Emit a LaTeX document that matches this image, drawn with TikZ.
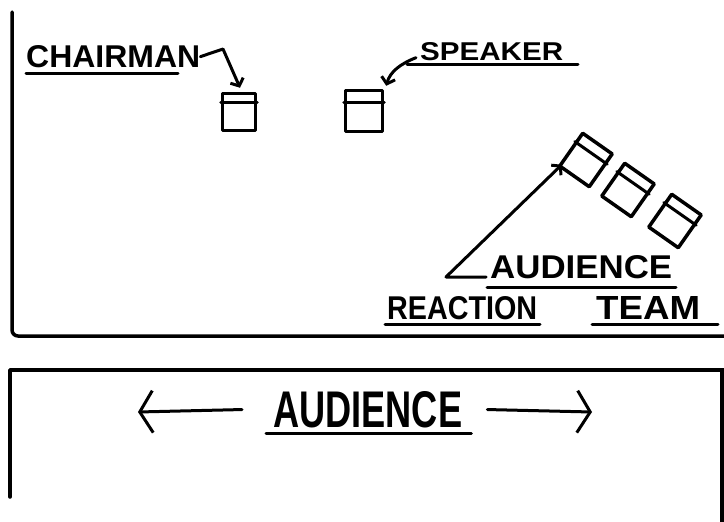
\documentclass[tikz,border=0pt]{standalone}
\usepackage{fontspec}
\setmainfont{Liberation Sans}
\usetikzlibrary{arrows.meta,calc}
\tikzset{
  ink/.style={line width=3pt,line cap=round,line join=round},
  wall/.style={line width=3.5pt,line cap=round,line join=round},
  lbl/.style={inner sep=0pt,font=\bfseries},
  seat/.style={draw,line width=3.5pt,rectangle,inner sep=0pt,line join=round},
  barb/.style={-{Straight Barb[length=6pt,width=14pt]}},
  bigbarb/.style={-{Straight Barb[length=13pt,width=42pt]}}
}
\begin{document}
\begin{tikzpicture}[x=1pt,y=-1pt]
\useasboundingbox (0,0) rectangle (724,522);
% stage walls
\draw[wall,rounded corners=6pt] (12,12) -- (12,336) -- (724,336);
\draw[wall] (10,497) -- (10,370) -- (724,370);
\draw[wall] (722,370) -- (722,522);

% chairman
\node[lbl,anchor=south west] (chair) at (26,68) {\resizebox{174pt}{22pt}{CHAIRMAN}};
\draw[ink] ($(chair.south west)+(0,5)$) -- ($(chair.south west)+(152,5)$);
\node[seat,minimum width=33pt,minimum height=37pt] (cseat) at (239,112) {};
\draw[ink] ($(cseat.north west)!0.27!(cseat.south west)$) -- ($(cseat.north east)!0.27!(cseat.south east)$);
\coordinate (cbend) at (223,49);
\draw[ink,barb] (chair.east) -- (cbend) -- ($(cseat.north)+(1,-4)$);

% speaker
\node[lbl,anchor=south west] (spk) at (420,61) {\resizebox{143pt}{18pt}{SPEAKER}};
\draw[ink] ($(spk.south west)+(-13,3)$) -- ($(spk.south west)+(158,3)$);
\node[seat,minimum width=37pt,minimum height=41pt] (sseat) at (364,111) {};
\draw[ink] ($(sseat.north west)!0.3!(sseat.south west)$) -- ($(sseat.north east)!0.3!(sseat.south east)$);
\draw[ink,barb] ($(spk.west)+(-4,6)$) .. controls (400,64) and (390,72) .. ($(sseat.north east)+(2,-3)$);

% audience reaction team seats
\node[seat,minimum width=36pt,minimum height=40pt,rotate=-35] (r1) at (586,160) {};
\node[seat,minimum width=36pt,minimum height=40pt,rotate=-35] (r2) at (628,190) {};
\node[seat,minimum width=36pt,minimum height=40pt,rotate=-35] (r3) at (675,221) {};
\foreach \r in {r1,r2,r3}{
  \draw[ink] ($(\r.north west)!0.3!(\r.south west)$) -- ($(\r.north east)!0.3!(\r.south east)$);
}

% audience reaction team label
\node[lbl,anchor=south west] (aud) at (490,279) {\resizebox{182pt}{23pt}{AUDIENCE}};
\draw[ink] ($(aud.south west)+(-3,8)$) -- ($(aud.south west)+(186,8)$);
\node[lbl,anchor=south west] (react) at (387,320) {\resizebox{150pt}{23pt}{REACTION}};
\draw[ink] ($(react.south west)+(-2,4)$) -- ($(react.south west)+(153,4)$);
\node[lbl,anchor=south west] (team) at (596,320) {\resizebox{104pt}{23pt}{TEAM}};
\draw[ink] ($(team.south west)+(-4,4)$) -- ($(team.south west)+(122,4)$);
\coordinate (vtx) at (446,277);
\draw[ink,barb] ($(aud.south west)+(-4,-2)$) -- (vtx) -- ($(r1.west)+(-8,16)$);

% audience
\node[lbl,anchor=south west] (audience) at (273,428) {\resizebox{189pt}{36pt}{AUDIENCE}};
\draw[ink] ($(audience.south west)+(-7,5)$) -- ($(audience.south east)+(9,5)$);
\coordinate (lend) at (138,412);
\coordinate (rend) at (592,412);
\draw[ink,bigbarb] ($(audience.west)+(-31,0)$ |- lend) -- (lend);
\draw[ink,bigbarb] ($(audience.east)+(25,0)$ |- rend) -- (rend);
\end{tikzpicture}
\end{document}
